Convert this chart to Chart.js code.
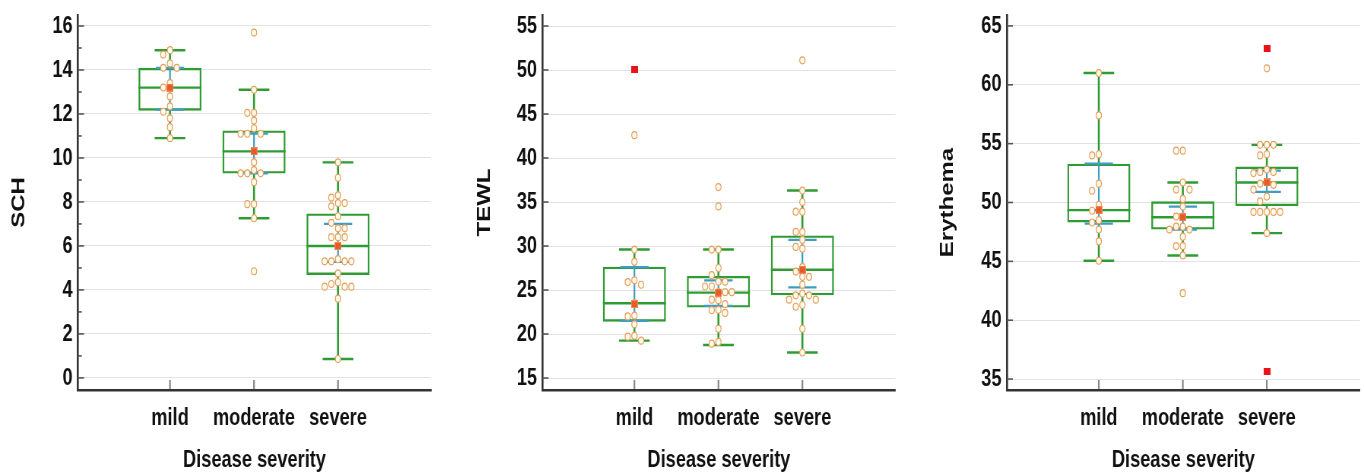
<!DOCTYPE html>
<html>
<head>
<meta charset="utf-8">
<title>SCH, TEWL and Erythema by disease severity</title>
<script src="https://cdn.jsdelivr.net/npm/chart.js@4.4.1/dist/chart.umd.min.js"></script>
<style>
html, body { margin: 0; padding: 0; background: #fff; overflow: hidden; }
#page { position: relative; width: 1364px; height: 474px; }
canvas { position: absolute; top: 0; }
</style>
</head>
<body>
<div id="page">
    <canvas id="schChart" width="600" height="474" style="left:0px;width:456px;height:474px"></canvas>
    <canvas id="tewlChart" width="600" height="474" style="left:463.6px;width:456px;height:474px"></canvas>
    <canvas id="eryChart" width="575" height="474" style="left:927.2px;width:437px;height:474px"></canvas>
</div>
<script>
// the original figure is squashed sideways: canvases are drawn wide and shown at 76%
const categories = ['mild', 'moderate', 'severe'];

// SCH
const schTicks = [0, 2, 4, 6, 8, 10, 12, 14, 16];
const schMinorTicks = [1, 3, 5, 7, 9, 11, 13, 15];
const schPoints = [
    [14.9, 14.7, 14.3, 14.1, 14.1, 13.4, 13.2, 12.8, 12.35, 12.1, 11.8, 11.4, 10.9],
    [15.7, 13.1, 12.05, 12.05, 11.7, 11.35, 11.1, 11.1, 11.1, 9.8, 9.45, 9.3, 9.3, 9.3, 8.9, 7.9, 7.9, 7.26, 4.85],
    [9.8, 9.1, 8.3, 8.2, 7.95, 7.95, 7.8, 7.35, 7.05, 6.8, 6.8, 6.4, 6.4, 6.4, 6.0, 5.4, 5.3, 5.3, 5.3, 5.3,
     4.75, 4.35, 4.27, 4.15, 4.15, 4.15, 3.6, 0.86]
];
const schOutliers = [[], [], []];
const schQ1 = [12.15, 9.29, 4.68];
const schMedian = [13.2, 10.3, 6.0];
const schQ3 = [14.1, 11.25, 7.48];
const schWhiskerLow = [10.9, 7.26, 0.86];
const schWhiskerHigh = [14.9, 13.1, 9.8];
const schMean = [13.2, 10.3, 6.0];
const schCiLow = [12.2, 9.3, 5.27];
const schCiHigh = [14.1, 11.1, 7.0];

// TEWL
const tewlTicks = [15, 20, 25, 30, 35, 40, 45, 50, 55];
const tewlPoints = [
    [42.6, 29.6, 28.2, 26.1, 25.9, 25.6, 23.5, 22.1, 22.0, 21.1, 19.8, 19.7, 19.25],
    [36.7, 34.5, 29.6, 29.6, 27.5, 26.7, 25.95, 25.95, 25.4, 25.4, 24.75, 24.75, 24.75, 23.9, 23.85, 23.4,
     22.75, 22.7, 22.4, 20.6, 19.1, 18.9],
    [51.1, 36.3, 35.0, 33.9, 33.9, 31.6, 31.6, 30.7, 29.9, 29.7, 27.6, 27.1, 26.5, 26.5, 25.6, 24.6, 24.4,
     24.4, 23.9, 23.9, 23.3, 23.1, 20.6, 17.9]
];
const tewlOutliers = [[50.1], [], []];
const tewlQ1 = [21.4, 23.0, 24.4];
const tewlMedian = [23.5, 24.7, 27.3];
const tewlQ3 = [27.65, 26.6, 31.2];
const tewlWhiskerLow = [19.25, 18.75, 17.9];
const tewlWhiskerHigh = [29.6, 29.6, 36.3];
const tewlMean = [23.4, 24.7, 27.3];
const tewlCiLow = [21.5, 23.2, 25.3];
const tewlCiHigh = [27.6, 26.1, 30.7];

// Erythema
const eryTicks = [35, 40, 45, 50, 55, 60, 65];
const eryPoints = [
    [61.0, 57.4, 54.1, 54.0, 51.6, 51.0, 49.8, 49.3, 48.5, 48.3, 47.7, 46.7, 45.05],
    [54.4, 54.4, 51.7, 51.1, 51.1, 50.3, 49.65, 48.8, 48.8, 47.95, 47.95, 47.7, 47.7, 47.1, 46.3, 46.3, 45.5, 42.3],
    [61.4, 54.9, 54.9, 54.9, 54.1, 54.0, 52.8, 52.6, 52.6, 52.5, 51.7, 51.6, 51.5, 51.1, 50.5, 50.1,
     49.2, 49.2, 49.2, 49.2, 49.2, 47.4]
];
const eryOutliers = [[], [], [63.1, 35.6]];
const eryQ1 = [48.3, 47.7, 49.7];
const eryMedian = [49.35, 48.75, 51.7];
const eryQ3 = [53.3, 50.1, 53.05];
const eryWhiskerLow = [45.05, 45.5, 47.4];
const eryWhiskerHigh = [61.0, 51.7, 54.9];
const eryMean = [49.35, 48.75, 51.7];
const eryCiLow = [48.2, 47.7, 50.9];
const eryCiHigh = [53.3, 49.65, 52.7];

const GREEN = '#2f9b33';
const TEAL = '#3d9dc2';
const FONT = "'Liberation Sans', Arial, sans-serif";
const X_MIN = -0.095, X_MAX = 4.107;
const PLOT_TOP = 15, PLOT_BOTTOM = 390;

function markerCanvas(w, h, fill, stroke) {
    const c = document.createElement('canvas');
    c.width = w; c.height = h;
    const g = c.getContext('2d');
    g.fillStyle = fill;
    g.fillRect(0, 0, w, h);
    if (stroke) {
        g.strokeStyle = stroke;
        g.lineWidth = 1;
        g.strokeRect(0.5, 0.5, w - 1, h - 1);
    }
    return c;
}
const meanMarker = markerCanvas(9, 8, '#ea5a26', '#f08a5c');
const outlierMarker = markerCanvas(9, 7, '#e8121a');

// simple beeswarm so that equal values sit side by side
function swarm(values, center, xPerUnit, yPerUnit) {
    const step = 8.8, gap = 7.6;
    const placed = [];
    return values.map(function (v) {
        const py = v * yPerUnit;
        let dx = 0;
        for (let i = 0; i < 21; i++) {
            const cand = (i % 2 ? -1 : 1) * Math.ceil(i / 2) * step;
            const hit = placed.some(p => Math.abs(p.py - py) < gap && Math.abs(p.dx - cand) < step * 0.9);
            if (!hit) { dx = cand; break; }
        }
        placed.push({ py: py, dx: dx });
        return { x: center + dx / xPerUnit, y: v };
    });
}

function noScalePadding(scale) {
    scale.paddingLeft = 0; scale.paddingRight = 0;
    scale.paddingTop = 0; scale.paddingBottom = 0;
}

const tickMarks = {
    id: 'tickMarks',
    afterDraw(chart, args, opts) {
        const ctx = chart.ctx, a = chart.chartArea;
        const x = chart.scales.x, y = chart.scales.y;
        ctx.save();
        ctx.strokeStyle = '#555';
        ctx.lineWidth = 1.6;
        y.ticks.forEach(function (t) {
            const py = y.getPixelForValue(t.value);
            const len = opts.major.includes(t.value) ? 8 : 5;
            ctx.beginPath(); ctx.moveTo(a.left, py); ctx.lineTo(a.left + len, py); ctx.stroke();
        });
        ctx.strokeStyle = '#888';
        ctx.lineWidth = 2.2;
        x.ticks.forEach(function (t) {
            const px = x.getPixelForValue(t.value);
            ctx.beginPath(); ctx.moveTo(px, a.bottom - 1); ctx.lineTo(px, a.bottom - 10); ctx.stroke();
        });
        ctx.restore();
    }
};

function makePanel(id, p) {
    const plotW = p.canvasW - p.axisLeft - p.padRight;
    const xPerUnit = plotW / (X_MAX - X_MIN);
    const yPerUnit = (PLOT_BOTTOM - PLOT_TOP) / (p.yMax - p.yMin);
    const pos = categories.map((c, i) => i + 1);

    const points = [], outliers = [], means = [], ciCaps = [], ciLines = [];
    const medians = [], caps = [], whiskers = [], boxes = [];
    pos.forEach(function (c, i) {
        swarm(p.points[i], c, xPerUnit, yPerUnit).forEach(pt => points.push(pt));
        p.outliers[i].forEach(v => outliers.push({ x: c, y: v }));
        means.push({ x: c, y: p.mean[i] });
        ciCaps.push({ x: c, y: p.ciLow[i] }, { x: c, y: p.ciHigh[i] });
        ciLines.push({ x: c, y: p.ciLow[i] }, { x: c, y: p.ciHigh[i] }, { x: c, y: null });
        medians.push({ x: c, y: p.median[i] });
        caps.push({ x: c, y: p.whiskerLow[i] }, { x: c, y: p.whiskerHigh[i] });
        whiskers.push({ x: c, y: p.whiskerLow[i] }, { x: c, y: p.q1[i] }, { x: c, y: null },
                      { x: c, y: p.q3[i] }, { x: c, y: p.whiskerHigh[i] }, { x: c, y: null });
        boxes.push({ x: c, y: [p.q1[i], p.q3[i]] });
    });

    const allTicks = p.ticks.concat(p.minor).sort((a, b) => a - b);

    return new Chart(document.getElementById(id), {
        type: 'scatter',
        data: {
            datasets: [
                { data: outliers, pointStyle: outlierMarker },
                { data: means, pointStyle: meanMarker },
                { data: points, pointStyle: 'circle', pointRadius: 3.5, pointBorderWidth: 1.2,
                  pointBackgroundColor: '#fff9ee', pointBorderColor: '#e3a05e' },
                { data: ciCaps, pointStyle: 'line', pointRadius: 18.6, pointBorderWidth: 2.2,
                  pointBorderColor: TEAL },
                { type: 'line', data: ciLines, showLine: true, spanGaps: false, pointRadius: 0,
                  borderColor: TEAL, borderWidth: 2.2 },
                { data: medians, pointStyle: 'line', pointRadius: 41.5, pointBorderWidth: 2.4,
                  pointBorderColor: GREEN },
                { data: caps, pointStyle: 'line', pointRadius: 20.2, pointBorderWidth: 2.4,
                  pointBorderColor: GREEN },
                { type: 'line', data: whiskers, showLine: true, spanGaps: false, pointRadius: 0,
                  borderColor: GREEN, borderWidth: 2.6 },
                { type: 'bar', data: boxes, barThickness: 83, backgroundColor: 'rgba(0,0,0,0)',
                  borderColor: GREEN, borderWidth: 2.4, borderSkipped: false, inflateAmount: 0 }
            ]
        },
        options: {
            responsive: false,
            animation: false,
            events: [],
            layout: {
                autoPadding: false,
                padding: { left: 0, right: p.padRight, top: PLOT_TOP, bottom: 0 }
            },
            plugins: {
                legend: { display: false },
                tooltip: { enabled: false },
                tickMarks: { major: p.ticks }
            },
            scales: {
                x: {
                    type: 'linear',
                    min: X_MIN,
                    max: X_MAX,
                    offset: false,
                    afterFit(scale) {
                        scale.height = 474 - PLOT_BOTTOM;
                        noScalePadding(scale);
                    },
                    afterBuildTicks(scale) { scale.ticks = pos.map(v => ({ value: v })); },
                    grid: { display: false, drawTicks: false },
                    border: { display: true, color: '#333', width: 2.5 },
                    ticks: {
                        autoSkip: false,
                        maxRotation: 0,
                        padding: 14,
                        color: '#111',
                        font: { family: FONT, size: 24, weight: 'bold' },
                        callback: v => categories[v - 1]
                    },
                    title: {
                        display: true,
                        text: 'Disease severity',
                        color: '#111',
                        padding: { top: 0, bottom: -1 },
                        font: { family: FONT, size: 24, weight: 'bold' }
                    }
                },
                y: {
                    type: 'linear',
                    min: p.yMin,
                    max: p.yMax,
                    afterFit(scale) {
                        scale.width = p.axisLeft;
                        noScalePadding(scale);
                    },
                    afterBuildTicks(scale) { scale.ticks = allTicks.map(v => ({ value: v })); },
                    grid: {
                        drawTicks: false,
                        lineWidth: 1,
                        color: ctx => (ctx.tick && p.ticks.includes(ctx.tick.value)) ? '#e2e2e2' : 'rgba(0,0,0,0)'
                    },
                    border: { display: true, color: '#333', width: 2.6 },
                    ticks: {
                        autoSkip: false,
                        padding: 7,
                        color: '#111',
                        font: { family: FONT, size: 24, weight: 'bold' },
                        callback: v => p.ticks.includes(v) ? String(v) : ''
                    },
                    title: {
                        display: true,
                        text: p.title,
                        color: '#111',
                        padding: { top: p.titlePad, bottom: 0 },
                        font: { family: FONT, size: 24, weight: 'bold' }
                    }
                }
            }
        },
        plugins: [tickMarks]
    });
}

makePanel('schChart', {
    canvasW: 600, axisLeft: 102.6, padRight: 32.9, titlePad: 11,
    yMin: -0.55, yMax: 16.5, ticks: schTicks, minor: schMinorTicks, title: 'SCH',
    points: schPoints, outliers: schOutliers, q1: schQ1, median: schMedian, q3: schQ3,
    whiskerLow: schWhiskerLow, whiskerHigh: schWhiskerHigh, mean: schMean, ciLow: schCiLow, ciHigh: schCiHigh
});

makePanel('tewlChart', {
    canvasW: 600, axisLeft: 103.2, padRight: 32.4, titlePad: 12.7,
    yMin: 13.64, yMax: 56.25, ticks: tewlTicks, minor: [], title: 'TEWL',
    points: tewlPoints, outliers: tewlOutliers, q1: tewlQ1, median: tewlMedian, q3: tewlQ3,
    whiskerLow: tewlWhiskerLow, whiskerHigh: tewlWhiskerHigh, mean: tewlMean, ciLow: tewlCiLow, ciHigh: tewlCiHigh
});

makePanel('eryChart', {
    canvasW: 575, axisLeft: 105, padRight: 5.5, titlePad: 13.4,
    yMin: 34.07, yMax: 65.93, ticks: eryTicks, minor: [], title: 'Erythema',
    points: eryPoints, outliers: eryOutliers, q1: eryQ1, median: eryMedian, q3: eryQ3,
    whiskerLow: eryWhiskerLow, whiskerHigh: eryWhiskerHigh, mean: eryMean, ciLow: eryCiLow, ciHigh: eryCiHigh
});
</script>
</body>
</html>
